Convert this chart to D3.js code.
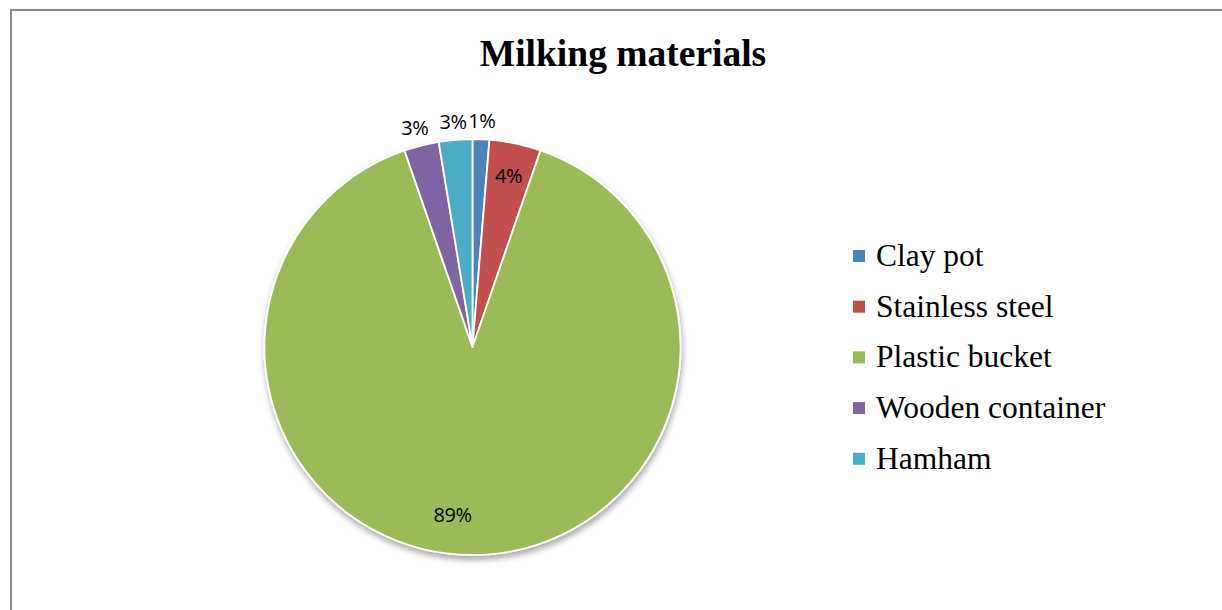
<!DOCTYPE html>
<html>
<head>
<meta charset="utf-8">
<script src="https://cdn.jsdelivr.net/npm/d3@7"></script>
<style>
  body { margin: 0; background: #fff; }
  svg { display: block; }
</style>
</head>
<body>
<svg id="chart" width="1222" height="610"></svg>
<script>
var width = 1222,
    height = 610;

// data
var categories = ['Clay pot', 'Stainless steel', 'Plastic bucket', 'Wooden container', 'Hamham'];
var values = [1.3, 4.0, 89.4, 2.7, 2.6];
var colors = ['#4F81BD', '#C0504D', '#9BBB59', '#8064A2', '#4BACC6'];
var chartTitle = 'Milking materials';

var svg = d3.select('#chart');

// outer chart frame (runs off the right and bottom edges)
svg.append('rect')
    .attr('x', 11).attr('y', 10)
    .attr('width', 1400).attr('height', 800)
    .attr('fill', 'none')
    .attr('stroke', '#8a8a8a')
    .attr('stroke-width', 2);

svg.append('text')
    .attr('x', 623).attr('y', 66)
    .attr('text-anchor', 'middle')
    .attr('font-family', '"Liberation Serif", "Times New Roman", serif')
    .attr('font-weight', 'bold')
    .attr('font-size', 37.5)
    .text(chartTitle);

var defs = svg.append('defs');
var f = defs.append('filter').attr('id', 'shadow')
    .attr('x', '-10%').attr('y', '-10%').attr('width', '130%').attr('height', '130%');
f.append('feGaussianBlur').attr('in', 'SourceAlpha').attr('stdDeviation', 3);
f.append('feOffset').attr('dx', 1).attr('dy', 4).attr('result', 'ob');
f.append('feComponentTransfer').append('feFuncA').attr('type', 'linear').attr('slope', 0.35);
var m = f.append('feMerge');
m.append('feMergeNode');
m.append('feMergeNode').attr('in', 'SourceGraphic');

var cx = 472.5, cy = 347, radius = 208;
var total = d3.sum(values);

var pie = d3.pie().sort(null).value(function (d) { return d; });
var arcs = pie(values);
var arc = d3.arc().innerRadius(0).outerRadius(radius);

var g = svg.append('g').attr('transform', 'translate(' + cx + ',' + cy + ')');

g.append('g').attr('filter', 'url(#shadow)')
    .selectAll('path')
    .data(arcs)
    .enter()
    .append('path')
    .attr('d', arc)
    .attr('fill', function (d, i) { return colors[i]; })
    .attr('stroke', '#fff')
    .attr('stroke-width', 1.8)
    .attr('stroke-linejoin', 'round');

// label radius per slice: small ones sit outside the pie
var labelR = [226, 175, 168, 227, 226];
var labelShift = [[0, 0], [0, 0], [-20, 0], [-2, 1], [-1, 0]];

g.selectAll('text.lbl')
    .data(arcs)
    .enter()
    .append('text')
    .attr('class', 'lbl')
    .attr('transform', function (d, i) {
        var a = d3.arc().innerRadius(labelR[i]).outerRadius(labelR[i]);
        var c = a.centroid(d);
        return 'translate(' + (c[0] + labelShift[i][0]) + ',' + (c[1] + labelShift[i][1]) + ')';
    })
    .attr('text-anchor', 'middle')
    .attr('dy', '0.35em')
    .attr('font-family', '"Open Sans", "Noto Sans", sans-serif')
    .attr('font-size', 20)
    .attr('letter-spacing', -0.5)
    .attr('fill', '#000')
    .text(function (d) { return Math.round(d.value / total * 100) + '%'; });

// legend
var legend = svg.append('g');
var rows = legend.selectAll('g')
    .data(categories)
    .enter()
    .append('g')
    .attr('transform', function (d, i) { return 'translate(853,' + (256 + i * 50.7) + ')'; });

rows.append('rect')
    .attr('x', 0).attr('y', -6)
    .attr('width', 12).attr('height', 12)
    .attr('fill', function (d, i) { return colors[i]; });

rows.append('text')
    .attr('x', 23).attr('y', 10)
    .attr('font-family', '"Liberation Serif", "Times New Roman", serif')
    .attr('font-size', 31.5)
    .text(function (d) { return d; });
</script>
</body>
</html>
